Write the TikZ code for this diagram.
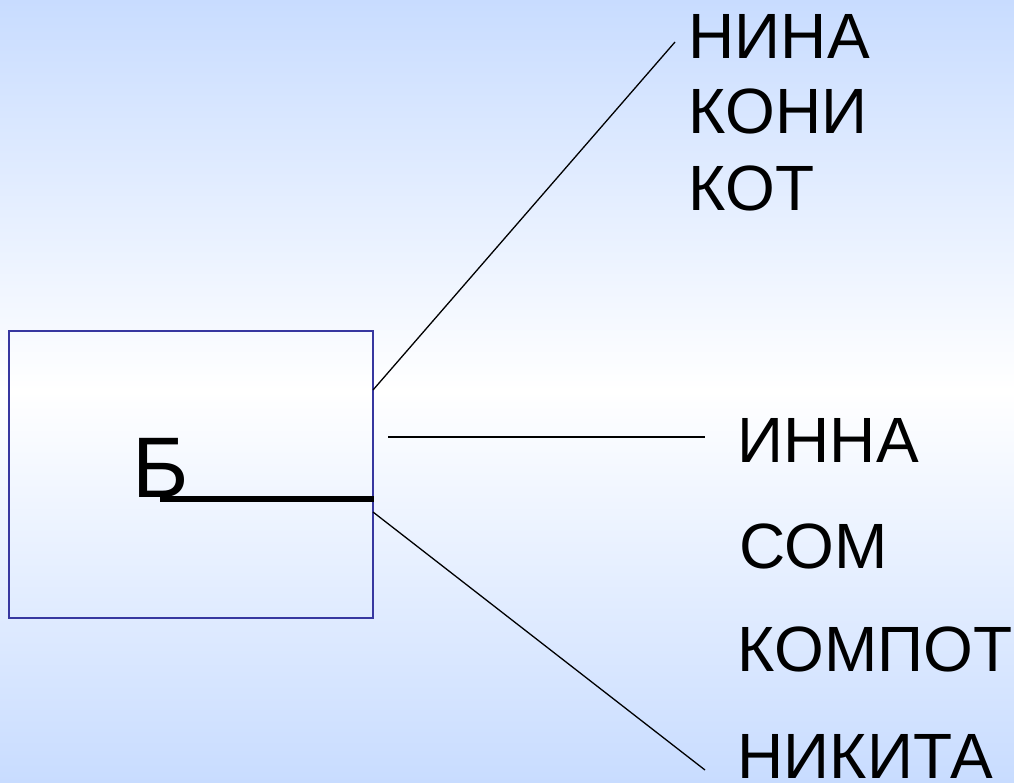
\documentclass[tikz,border=0pt]{standalone}
\usepackage{fontspec}
\setmainfont{Liberation Sans}
\definecolor{sky}{RGB}{200,220,255}
\definecolor{frameblue}{RGB}{55,55,160}

\begin{document}
\begin{tikzpicture}[x=1pt, y=-1pt, line width=1.3pt]
  \tikzstyle{word} = [font=\fontsize{64}{64}\selectfont, anchor=base west, inner sep=0pt]
  \shade[top color=sky, bottom color=sky, middle color=white] (0,0) rectangle (1014,782);
  \useasboundingbox (0,0) rectangle (1014,782);
  \node (box) [draw=frameblue, line width=1.5pt, minimum width=364pt, minimum height=287pt, inner sep=0pt] at (191,474.5) {};
  \node (letter) [word, font=\fontsize{86}{86}\selectfont] at (132,497) {Б};
  \coordinate (bar) at (160,498.5);
  \draw[line width=6pt] (bar) -- (bar -| box.east);
  % upper group
  \node (nina) [word] at (688,58) {НИНА};
  \node (koni) [word] at (688,133) {КОНИ};
  \node (kot) [word] at (688,210) {КОТ};
  % lower group
  \node (inna) [word] at (737,462) {ИННА};
  \node (som) [word] at (739,568) {СОМ};
  \node (kompot) [word] at (737,671) {КОМПОТ};
  \node (nikita) [word] at (737,778) {НИКИТА};
  % connectors
  \coordinate (up) at (373,390);
  \coordinate (mid) at (388,437);
  \coordinate (low) at (373,512);
  \coordinate (upend) at (675,42);
  \coordinate (midend) at (705,437);
  \coordinate (lowend) at (705,770);
  \draw (up) -- (upend);
  \draw (mid) -- (midend);
  \draw (low) -- (lowend);
\end{tikzpicture}
\end{document}
